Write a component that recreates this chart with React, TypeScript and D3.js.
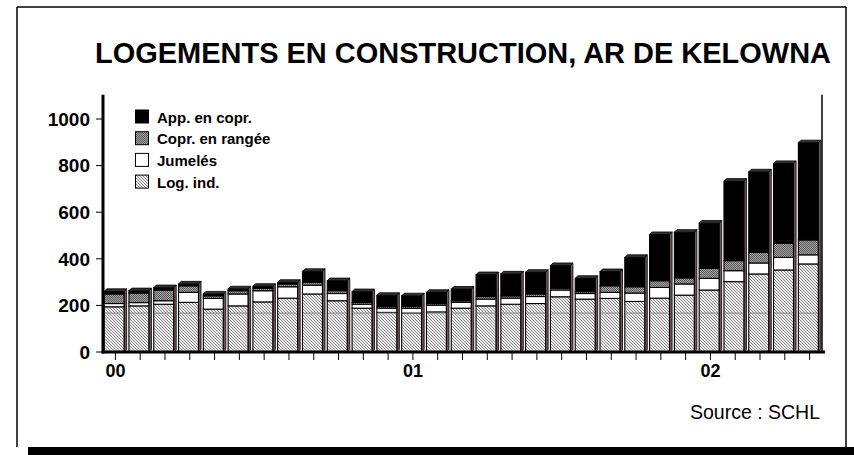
import React from "react";
import * as d3 from "d3";

const months = [
  "2000-01","2000-02","2000-03","2000-04","2000-05","2000-06","2000-07","2000-08","2000-09","2000-10","2000-11","2000-12",
  "2001-01","2001-02","2001-03","2001-04","2001-05","2001-06","2001-07","2001-08","2001-09","2001-10","2001-11","2001-12",
  "2002-01","2002-02","2002-03","2002-04","2002-05",
];
const logInd = [194,198,205,213,184,198,215,231,249,220,188,170,167,172,188,198,205,208,237,227,230,217,231,244,266,302,335,352,378];
const jumeles = [14,14,15,43,46,51,48,49,38,31,17,18,20,29,25,29,26,30,29,24,26,36,46,48,50,47,47,54,39];
const coprRangee = [41,41,46,28,11,14,11,12,12,12,8,7,8,7,7,11,10,11,8,8,28,27,29,26,43,43,46,61,64];
const appCopr = [11,10,10,8,8,8,8,7,47,43,46,48,46,48,50,94,94,93,97,57,61,126,198,196,194,341,345,342,417];
const yearTicks = [
  { month: "2000-01", label: "00" },
  { month: "2001-01", label: "01" },
  { month: "2002-01", label: "02" },
];
const yTicks = [0, 200, 400, 600, 800, 1000];
const seriesNames = ["Log. ind.", "Jumelés", "Copr. en rangée", "App. en copr."];
const legendOrder = ["App. en copr.", "Copr. en rangée", "Jumelés", "Log. ind."];

const FONT = "'Liberation Sans', Arial, Helvetica, sans-serif";

export default function App() {
  const W = 854, H = 455;
  const left = 103, right = 822, top = 95.7, bottom = 352;
  const x = d3.scaleBand<string>().domain(months).range([left, right]).paddingInner(0).paddingOuter(0);
  const y = d3.scaleLinear().domain([0, 1100]).range([bottom, top]);
  const rows = months.map((m, i) => ({ m, a: logInd[i], b: jumeles[i], c: coprRangee[i], d: appCopr[i] }));
  const stack = d3.stack<any>().keys(["a", "b", "c", "d"]);
  const series = stack(rows);
  const fills = ["url(#hatch)", "#ffffff", "url(#checker)", "#000000"];
  const topFills = ["#b8b8b8", "#e0e0e0", "#555555", "#333333"];
  const footprint = 22.5;
  const depth = 2.6;
  const fw = footprint - depth;
  const gridVal = 167;

  return (
    <svg width={W} height={H} style={{ position: "absolute", left: 0, top: 0 }} xmlns="http://www.w3.org/2000/svg">
      <defs>
        <pattern id="hatch" patternUnits="userSpaceOnUse" width="3" height="3">
          <rect width="3" height="3" fill="#eeeeee" />
          <path d="M0,0 L3,3 M-1,2 L1,4 M2,-1 L4,1" stroke="#7c7c7c" strokeWidth="0.9" />
        </pattern>
        <pattern id="checker" patternUnits="userSpaceOnUse" width="2" height="2">
          <rect width="2" height="2" fill="#a0a0a0" />
          <rect width="1" height="1" fill="#5e5e5e" />
          <rect x="1" y="1" width="1" height="1" fill="#5e5e5e" />
        </pattern>
      </defs>
      <rect x={0} y={0} width={W} height={H} fill="#ffffff" />
      {/* frame */}
      <line x1={17} y1={7} x2={846} y2={7} stroke="#000" strokeWidth={1.5} />
      <line x1={17} y1={7} x2={17} y2={447} stroke="#000" strokeWidth={1.5} />
      <line x1={846} y1={7} x2={846} y2={447} stroke="#000" strokeWidth={1.5} />
      <rect x={28} y={447} width={W - 28} height={8} fill="#000" />

      <text x={463} y={63} textAnchor="middle" fontFamily={FONT} fontWeight="bold" fontSize={29} textLength={736} lengthAdjust="spacingAndGlyphs">
        LOGEMENTS EN CONSTRUCTION, AR DE KELOWNA
      </text>

      {/* bars */}
      {rows.map((r, i) => {
        const cx = (x(r.m) as number) + x.bandwidth() / 2;
        const x0 = cx - footprint / 2;
        const y0 = y(0);
        const total = r.a + r.b + r.c + r.d;
        const yt = y(total);
        const topIdx = 3;
        return (
          <g key={r.m}>
            <polygon
              points={`${x0 + fw},${y0} ${x0 + fw + depth},${y0 - depth} ${x0 + fw + depth},${yt - depth} ${x0 + fw},${yt}`}
              fill="#6e5656" stroke="#000" strokeWidth={0.8}
            />
            {series.map((s, k) => {
              const seg = s[i];
              const ya = y(seg[0]);
              const yb = y(seg[1]);
              return (
                <rect key={k} x={x0} y={yb} width={fw} height={Math.max(0, ya - yb)} fill={fills[k]} stroke="#000" strokeWidth={1.1} />
              );
            })}
            <line x1={x0 + 1} x2={x0 + fw - 1} y1={y(gridVal)} y2={y(gridVal)} stroke="#8a8a8a" strokeWidth={1} />
            <polygon
              points={`${x0},${yt} ${x0 + fw},${yt} ${x0 + fw + depth},${yt - depth} ${x0 + depth},${yt - depth}`}
              fill={topFills[topIdx]} stroke="#000" strokeWidth={0.8}
            />
          </g>
        );
      })}

      {/* axes */}
      <line x1={left} y1={top - 1} x2={left} y2={bottom + 1.5} stroke="#000" strokeWidth={3} />
      <line x1={left - 1.5} y1={bottom} x2={right + 3} y2={bottom} stroke="#000" strokeWidth={3} />
      <line x1={right} y1={top - 1} x2={right} y2={bottom} stroke="#000" strokeWidth={1.5} />
      {yTicks.map((t) => (
        <g key={t}>
          <line x1={left - 7} x2={left} y1={y(t)} y2={y(t)} stroke="#000" strokeWidth={1} />
          <text x={90} y={y(t)} dy="0.36em" textAnchor="end" fontFamily={FONT} fontWeight="bold" fontSize={19}>
            {t}
          </text>
        </g>
      ))}
      {months.map((m) => {
        const cx = (x(m) as number) + x.bandwidth() / 2;
        return <line key={m} x1={cx} x2={cx} y1={bottom + 1} y2={bottom + 8} stroke="#000" strokeWidth={1} />;
      })}
      {yearTicks.map((t) => (
        <text key={t.label} x={(x(t.month) as number) + x.bandwidth() / 2} y={377} textAnchor="middle" fontFamily={FONT} fontWeight="bold" fontSize={18}>
          {t.label}
        </text>
      ))}

      {/* legend */}
      {legendOrder.map((name, j) => {
        const k = seriesNames.indexOf(name);
        const yy = 110 + j * 21.7;
        return (
          <g key={name}>
            <rect x={135.5} y={yy} width={13} height={13} fill={fills[k]} stroke="#000" strokeWidth={1} />
            <text x={157} y={yy + 12.5} fontFamily={FONT} fontWeight="bold" fontSize={15}>
              {name}
            </text>
          </g>
        );
      })}

      <text x={820} y={419} textAnchor="end" fontFamily={FONT} fontSize={19.5}>
        Source : SCHL
      </text>
    </svg>
  );
}
